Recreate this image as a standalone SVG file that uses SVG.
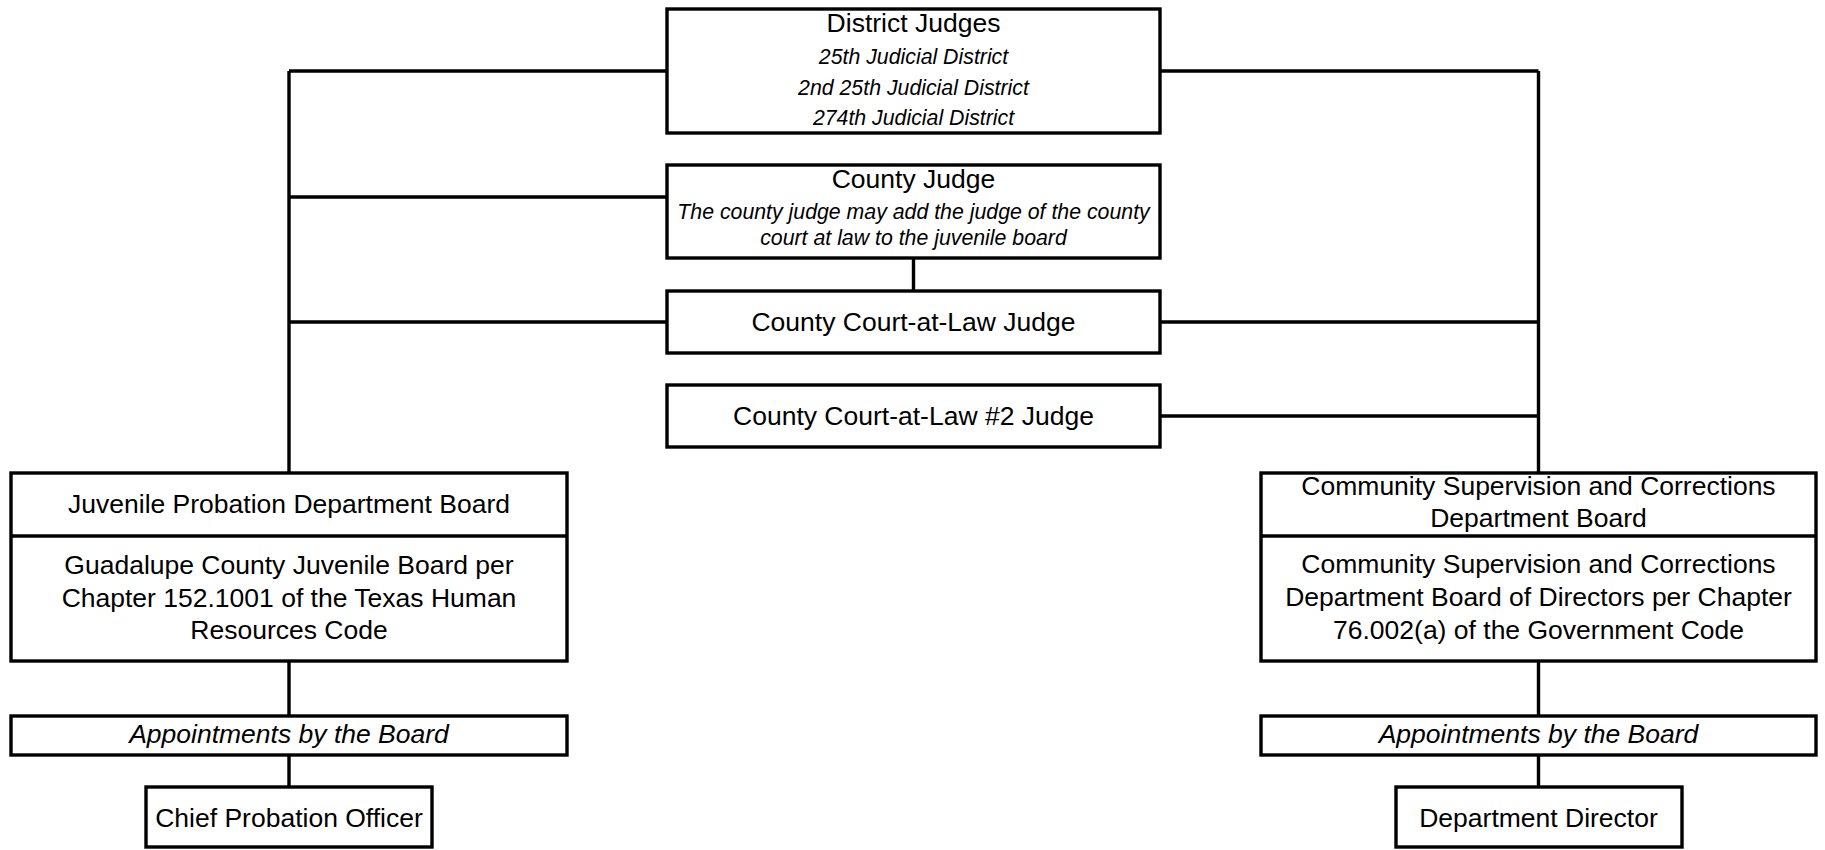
<svg xmlns="http://www.w3.org/2000/svg" width="1825" height="850" viewBox="0 0 1825 850">
<style>
.box{fill:#fff;stroke:#000;stroke-width:3.4}
.ln{stroke:#000;stroke-width:3.4;fill:none}
text{font-family:"Liberation Sans",Arial,sans-serif;fill:#000;text-anchor:middle}
.t{font-size:26.5px}
.s{font-size:21.3px;font-style:italic}
.i{font-size:26.5px;font-style:italic}
</style>
<rect width="1825" height="850" fill="#fff"/>
<g id="connectors">
<path class="ln" d="M289,71V473 M289,71H667 M289,197H667 M289,322H667"/>
<path class="ln" d="M1538.5,71V473 M1160,71H1538.5 M1160,322H1538.5 M1160,416H1538.5"/>
<path class="ln" d="M913.5,258V291"/>
<path class="ln" d="M289,661V716 M289,755V787"/>
<path class="ln" d="M1538.5,661V716 M1538.5,755V787"/>
</g>
<g id="district-judges">
<rect class="box" x="667" y="9" width="493" height="124"/>
<text class="t" x="913.5" y="32">District Judges</text>
<text class="s" x="913.5" y="64">25th Judicial District</text>
<text class="s" x="913.5" y="95">2nd 25th Judicial District</text>
<text class="s" x="913.5" y="125">274th Judicial District</text>
</g>
<g id="county-judge">
<rect class="box" x="667" y="165" width="493" height="93"/>
<text class="t" x="913.5" y="188">County Judge</text>
<text class="s" x="913.5" y="219">The county judge may add the judge of the county</text>
<text class="s" x="913.5" y="245">court at law to the juvenile board</text>
</g>
<g id="ccl-judge">
<rect class="box" x="667" y="291" width="493" height="62"/>
<text class="t" x="913.5" y="331">County Court-at-Law Judge</text>
</g>
<g id="ccl2-judge">
<rect class="box" x="667" y="385" width="493" height="62"/>
<text class="t" x="913.5" y="425">County Court-at-Law #2 Judge</text>
</g>
<g id="juvenile-board">
<rect class="box" x="11" y="473" width="556" height="188"/>
<path class="ln" d="M11,536H567"/>
<text class="t" x="289" y="513">Juvenile Probation Department Board</text>
<text class="t" x="289" y="574">Guadalupe County Juvenile Board per</text>
<text class="t" x="289" y="607">Chapter 152.1001 of the Texas Human</text>
<text class="t" x="289" y="639">Resources Code</text>
</g>
<g id="juvenile-appointments">
<rect class="box" x="11" y="716" width="556" height="39"/>
<text class="i" x="289" y="743">Appointments by the Board</text>
</g>
<g id="chief-probation-officer">
<rect class="box" x="146" y="787" width="286" height="60"/>
<text class="t" x="289" y="827">Chief Probation Officer</text>
</g>
<g id="cscd-board">
<rect class="box" x="1261" y="473" width="555" height="188"/>
<path class="ln" d="M1261,536H1816"/>
<text class="t" x="1538.5" y="495">Community Supervision and Corrections</text>
<text class="t" x="1538.5" y="527">Department Board</text>
<text class="t" x="1538.5" y="573">Community Supervision and Corrections</text>
<text class="t" x="1538.5" y="606">Department Board of Directors per Chapter</text>
<text class="t" x="1538.5" y="639">76.002(a) of the Government Code</text>
</g>
<g id="cscd-appointments">
<rect class="box" x="1261" y="716" width="555" height="39"/>
<text class="i" x="1538.5" y="743">Appointments by the Board</text>
</g>
<g id="department-director">
<rect class="box" x="1396" y="787" width="286" height="60"/>
<text class="t" x="1538.5" y="827">Department Director</text>
</g>
</svg>
